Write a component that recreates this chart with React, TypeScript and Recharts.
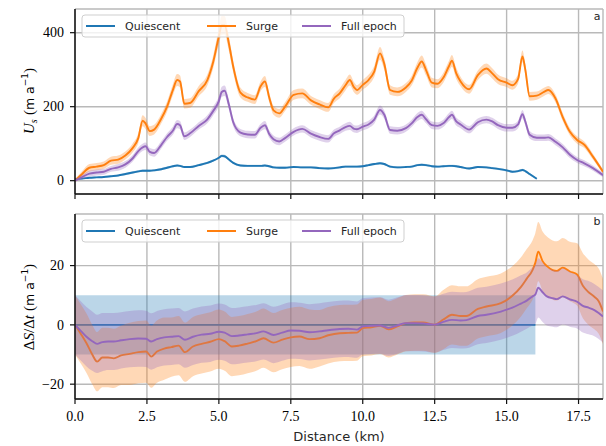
import React from "react";
import { ComposedChart, Line, Area, XAxis, YAxis, CartesianGrid } from "recharts";

const BLUE = "#1f77b4";
const ORANGE = "#ff7f0e";
const PURPLE = "#9467bd";
const GRID = "#b9b9b9";

// distance along flowline (km), top panel
const DIST_TOP = [
  0, 0.25, 0.5, 0.75, 1.0, 1.25, 1.5, 1.75, 2.0, 2.2,
  2.35, 2.45, 2.6, 2.75, 3.0, 3.2, 3.4, 3.55, 3.65, 3.8,
  4.0, 4.3, 4.6, 4.8, 5.0, 5.1, 5.2, 5.35, 5.5, 5.75,
  6.0, 6.25, 6.45, 6.6, 6.75, 6.9, 7.1, 7.3, 7.6, 7.9,
  8.2, 8.5, 8.8, 9.0, 9.2, 9.4, 9.55, 9.7, 9.8, 10.0,
  10.2, 10.4, 10.6, 10.75, 10.95, 11.2, 11.5, 11.7, 11.9, 12.05,
  12.2, 12.4, 12.6, 12.8, 13.0, 13.1, 13.25, 13.4, 13.7, 14.0,
  14.3, 14.5, 14.7, 15.0, 15.2, 15.4, 15.55, 15.65, 15.8, 16.05,
  16.3, 16.45, 16.7, 16.95, 17.2, 17.45, 17.7, 18.0, 18.35,
];

// surface speed U_s (m/a)
const SURGE_TOP = [
  0, 18, 35, 38, 42, 54, 57, 68, 88, 115,
  162, 155, 134, 138, 168, 200, 245, 272, 268, 208,
  210, 242, 272, 320, 390, 420, 420, 370, 308, 238,
  225, 219, 255, 268, 225, 190, 182, 200, 232, 236,
  217, 206, 198, 222, 236, 258, 272, 252, 245, 259,
  272, 295, 344, 315, 245, 240, 252, 270, 305, 322,
  299, 265, 262, 278, 310, 324, 290, 268, 247, 285,
  303, 290, 274, 265, 258, 275, 336, 300, 228, 230,
  240, 245, 222, 172, 132, 110, 97, 65, 24,
];
const SURGE_TOP_ERR = [
  4, 8, 10, 10, 10, 11, 11, 11, 12, 13,
  15, 15, 13, 13, 13, 14, 15, 16, 16, 13,
  13, 14, 15, 17, 22, 26, 25, 20, 16, 13,
  12, 12, 13, 15, 13, 12, 12, 12, 13, 13,
  12, 12, 12, 12, 13, 14, 15, 14, 13, 13,
  14, 15, 17, 16, 13, 12, 12, 13, 15, 16,
  15, 13, 12, 13, 15, 16, 15, 13, 12, 13,
  14, 14, 13, 12, 12, 13, 16, 15, 12, 11,
  11, 11, 11, 11, 10, 10, 9, 8, 6,
];
const FULL_TOP = [
  0, 10, 19, 22, 24, 32, 36, 44, 60, 80,
  90, 93, 78, 75, 97, 118, 135, 153, 150, 120,
  128, 148, 166, 188, 215, 240, 243, 205, 158, 130,
  125, 124, 143, 150, 126, 112, 106, 115, 132, 140,
  127, 118, 113, 128, 136, 145, 148, 140, 139, 146,
  152, 165, 191, 178, 137, 135, 142, 155, 172, 178,
  166, 150, 148, 155, 172, 178, 160, 152, 138, 158,
  165, 160, 150, 143, 143, 152, 180, 160, 124, 116,
  116, 117, 105, 90, 70, 56, 47, 34, 15,
];
const FULL_TOP_ERR = [
  3, 6, 8, 8, 8, 8, 9, 9, 9, 10,
  10, 10, 10, 10, 10, 10, 11, 11, 11, 10,
  10, 10, 11, 12, 13, 14, 14, 13, 11, 10,
  10, 10, 10, 11, 10, 10, 10, 10, 10, 10,
  10, 10, 10, 10, 10, 10, 11, 10, 10, 10,
  10, 11, 12, 11, 10, 10, 10, 10, 11, 11,
  11, 10, 10, 10, 11, 11, 11, 10, 10, 10,
  10, 10, 10, 10, 10, 10, 11, 11, 10, 9,
  9, 9, 9, 9, 9, 8, 8, 7, 6,
];
const QUIET_TOP = [
  5, 6, 8, 9, 10, 12, 14, 18, 22, 25,
  27, 27, 27, 28, 31, 35, 39, 41, 40, 37,
  37, 42, 48, 54, 62, 67, 66, 57, 48, 41,
  40, 40, 40, 41, 39, 36, 35, 35, 37, 36,
  36, 34, 33, 34, 36, 38, 38, 38, 38, 39,
  42, 45, 47, 45, 38, 36, 37, 38, 42, 43,
  42, 39, 38, 39, 40, 40, 39, 37, 33, 37,
  36, 34, 32, 28, 24, 26, 29, 26, 18, 5,
  null, null, null, null, null, null, null, null, null,
];
const QUIET_TOP_ERR = [
  2, 2, 2, 2, 2, 2, 2, 3, 3, 3,
  3, 3, 3, 3, 3, 3, 3, 3, 3, 3,
  3, 3, 3, 3, 3, 4, 4, 3, 3, 3,
  3, 3, 3, 3, 3, 3, 3, 3, 3, 3,
  3, 3, 3, 3, 3, 3, 3, 3, 3, 3,
  3, 3, 3, 3, 3, 3, 3, 3, 3, 3,
  3, 3, 3, 3, 3, 3, 3, 3, 3, 3,
  3, 3, 3, 3, 3, 3, 3, 3, 3, 2,
  0, 0, 0, 0, 0, 0, 0, 0, 0,
];

// distance (km), bottom panel
const DIST_BOT = [
  0, 0.2, 0.4, 0.6, 0.77, 0.95, 1.15, 1.35, 1.6, 1.9,
  2.2, 2.47, 2.65, 2.85, 3.1, 3.35, 3.6, 3.82, 4.1, 4.4,
  4.7, 5.0, 5.2, 5.45, 5.7, 6.0, 6.3, 6.55, 6.9, 7.2,
  7.5, 7.8, 8.15, 8.5, 8.8, 9.2, 9.5, 9.8, 10.0, 10.3,
  10.6, 10.9, 11.2, 11.5, 11.8, 12.1, 12.5, 12.8, 13.1, 13.4,
  13.6, 14.0, 14.3, 14.8, 15.2, 15.5, 15.7, 15.9, 16.0, 16.1,
  16.25, 16.4, 16.6, 16.75, 16.95, 17.2, 17.45, 17.65, 17.85, 18.05,
  18.2, 18.35,
];

// surface elevation change dS/dt (m/a)
const SURGE_BOT = [
  0, -3, -6.2, -10, -12.4, -11, -11, -11.3, -10.3, -9.8,
  -9.2, -9, -10.7, -9, -8, -7.5, -7, -9.2, -7.3, -6.4,
  -5.7, -4.8, -5.5, -7.3, -7, -6.3, -5.5, -4.5, -6, -5,
  -4.2, -3.9, -4.8, -4.5, -3.5, -2.8, -2.7, -2.6, -1.1, -0.8,
  -0.3, -1.5, -0.5, 0.6, 0.8, 0.8, 0.1, 1.8, 3.4, 3.0,
  3.0, 5.4, 6.2, 7.3, 9.8, 12.8, 15.6, 18.5, 21, 24.7,
  21.5, 19.8, 18.5, 18.2, 19.3, 18, 17, 13.2, 11, 9.5,
  8, 4.5,
];
const SURGE_BOT_ERR = [
  10, 10, 10, 10, 10, 10, 10, 10, 10, 10.5,
  10.5, 10.5, 10.5, 10.5, 10.5, 10, 10, 10, 10, 10,
  10, 10, 10, 10, 10, 10, 10, 10, 10, 10,
  10, 10, 10, 9.5, 9.5, 9.5, 9.5, 9.5, 9.5, 9.5,
  9.5, 9.5, 9.5, 9.5, 9.5, 9.5, 9.5, 10, 10, 10,
  10, 10, 10, 10, 10, 10, 10, 10, 10, 10,
  10, 10, 10, 10, 10, 10, 10.5, 11, 11, 11,
  11, 11,
];
const FULL_BOT = [
  0, -2, -4, -5.5, -6.4, -5.8, -5.6, -5.6, -5.2, -4.8,
  -4.6, -4.7, -5.6, -4.8, -4.2, -4, -3.8, -5, -4, -3.3,
  -3, -2.3, -2.6, -3.8, -3.6, -3.2, -2.8, -2.2, -3.4, -2.6,
  -1.9, -2, -2.5, -2.2, -1.8, -1.4, -1.3, -1.6, -0.5, -0.3,
  -0.2, -1, -0.2, 0.6, 0.6, 0.5, 0.1, 1.0, 1.7, 1.5,
  1.6, 3.0, 3.4, 4.5, 5.8, 7.2, 8.2, 9.6, 10.3, 12.5,
  11, 9.6, 9, 8.7, 9.6, 8.6, 7.8, 6.4, 5.8, 5,
  4, 2.8,
];
const FULL_BOT_ERR = [
  10, 10, 10, 10, 9.8, 9.8, 9.6, 9.6, 9.5, 9.5,
  9.5, 9.5, 9.5, 9.5, 9.5, 9.5, 9.5, 9.5, 9.5, 9.5,
  9.5, 9.5, 9.5, 9.5, 9.5, 9.5, 9.5, 9.5, 9.5, 9.5,
  9.5, 9.5, 9.5, 9.5, 9.5, 9.5, 9.5, 9.5, 9.5, 9.5,
  9.5, 9.5, 9.5, 9.5, 9.5, 9.5, 9.5, 9.5, 9.5, 9.5,
  9.5, 9.5, 9.5, 9.5, 9.5, 9.5, 9.5, 9.8, 10, 10,
  10, 9.8, 9.6, 9.5, 9.5, 9.2, 9, 9, 9, 8.8,
  8.8, 8.8,
];
const QUIET_BOT = DIST_BOT.map((d) => (d <= 16 ? 0 : null));
const QUIET_BOT_ERR = 10;

const X_TICKS = [0, 2.5, 5, 7.5, 10, 12.5, 15, 17.5];
const X_MAX = 18.35;
const TOP_TICKS = [0, 200, 400];
const BOT_TICKS = [-20, 0, 20];

const band = (v: number | null, e: number) => (v == null ? null : [v - e, v + e]);

const topRows = DIST_TOP.map((d, i) => ({
  d,
  q: QUIET_TOP[i],
  s: SURGE_TOP[i],
  f: FULL_TOP[i],
  qBand: band(QUIET_TOP[i], QUIET_TOP_ERR[i]),
  sBand: band(SURGE_TOP[i], SURGE_TOP_ERR[i]),
  fBand: band(FULL_TOP[i], FULL_TOP_ERR[i]),
}));

const botRows = DIST_BOT.map((d, i) => ({
  d,
  q: QUIET_BOT[i],
  s: SURGE_BOT[i],
  f: FULL_BOT[i],
  qBand: band(QUIET_BOT[i], QUIET_BOT_ERR),
  sBand: band(SURGE_BOT[i], SURGE_BOT_ERR[i]),
  fBand: band(FULL_BOT[i], FULL_BOT_ERR[i]),
}));

const AXIS = { stroke: "#111", strokeWidth: 1.5 };
const TICK_LINE = { stroke: "#111", strokeWidth: 1.2 };
const SANS = "'DejaVu Sans', sans-serif";
const SERIF = "'Liberation Serif', 'Times New Roman', serif";
const serifStyle = { fontFamily: SERIF };
const sansStyle = { fontFamily: SANS };

const fmtX = (v: number) => v.toFixed(1);
const fmtY = (v: number) => (v < 0 ? "\u2212" + Math.abs(v) : String(v));

const xTick = (show: boolean) => (p: any) => (
  <text x={p.x} y={p.y} dy="0.71em" textAnchor="middle" style={serifStyle} fontSize={14} fill="#000">
    {show ? fmtX(p.payload.value) : ""}
  </text>
);
const yTick = (p: any) => (
  <text x={p.x} y={p.y} dy="0.34em" textAnchor="end" style={serifStyle} fontSize={14} fill="#000">
    {fmtY(p.payload.value)}
  </text>
);

function Panel({ rows, yDomain, yTicks, height, xHeight, showX, qType }: any) {
  return (
    <ComposedChart
      width={606}
      height={height}
      data={rows}
      margin={{ top: 9, right: 3, bottom: 0, left: 0 }}
    >
      <CartesianGrid stroke={GRID} strokeWidth={1.4} />
      <XAxis
        dataKey="d"
        type="number"
        domain={[0, X_MAX]}
        ticks={X_TICKS}
        interval={0}
        allowDataOverflow
        height={xHeight}
        tickSize={5}
        tickMargin={7}
        axisLine={AXIS}
        tickLine={TICK_LINE}
        tick={xTick(showX)}
      />
      <XAxis
        xAxisId="top"
        orientation="top"
        type="number"
        domain={[0, X_MAX]}
        height={0}
        tick={false}
        tickLine={false}
        axisLine={AXIS}
      />
      <YAxis
        type="number"
        domain={yDomain}
        ticks={yTicks}
        interval={0}
        allowDataOverflow
        width={75}
        tickSize={5}
        tickMargin={6}
        axisLine={AXIS}
        tickLine={TICK_LINE}
        tick={yTick}
      />
      <YAxis
        yAxisId="right"
        orientation="right"
        type="number"
        domain={yDomain}
        width={0}
        tick={false}
        tickLine={false}
        axisLine={AXIS}
      />
      <Area type={qType} dataKey="qBand" stroke="none" fill={BLUE} fillOpacity={0.3} isAnimationActive={false} activeDot={false} zIndex={100} />
      <Line type={qType} dataKey="q" stroke={BLUE} strokeWidth={1.9} dot={false} activeDot={false} isAnimationActive={false} zIndex={101} />
      <Area type="monotone" dataKey="sBand" stroke="none" fill={ORANGE} fillOpacity={0.3} isAnimationActive={false} activeDot={false} zIndex={102} />
      <Line type="monotone" dataKey="s" stroke={ORANGE} strokeWidth={1.9} dot={false} activeDot={false} isAnimationActive={false} zIndex={103} />
      <Area type="monotone" dataKey="fBand" stroke="none" fill={PURPLE} fillOpacity={0.3} isAnimationActive={false} activeDot={false} zIndex={104} />
      <Line type="monotone" dataKey="f" stroke={PURPLE} strokeWidth={1.9} dot={false} activeDot={false} isAnimationActive={false} zIndex={105} />
    </ComposedChart>
  );
}

const LEGEND_ITEMS = [
  { label: "Quiescent", color: BLUE, x: 86 },
  { label: "Surge", color: ORANGE, x: 207 },
  { label: "Full epoch", color: PURPLE, x: 302 },
];

function LegendBox({ y }: { y: number }) {
  return (
    <g>
      <rect x={82} y={y} width={322} height={22} rx={3} fill="#fff" fillOpacity={0.8} stroke="#cfcfcf" strokeWidth={1} />
      {LEGEND_ITEMS.map((it) => (
        <g key={it.label}>
          <line x1={it.x} x2={it.x + 29} y1={y + 11} y2={y + 11} stroke={it.color} strokeWidth={2} />
          <text x={it.x + 39} y={y + 15} style={sansStyle} fontSize={11} fill="#262626">
            {it.label}
          </text>
        </g>
      ))}
    </g>
  );
}

function UnitTail() {
  return (
    <>
      <tspan style={serifStyle} fontStyle="normal" dx="4">(</tspan>
      <tspan style={sansStyle} fontSize={12.5}>m a</tspan>
      <tspan style={sansStyle} fontSize={9} dy="-6">{"\u22121"}</tspan>
      <tspan style={serifStyle} dy="6">)</tspan>
    </>
  );
}

export default function App() {
  return (
    <div style={{ position: "absolute", left: 0, top: 0, width: 606, height: 446, background: "#fff" }}>
      <div style={{ position: "absolute", left: 0, top: 0 }}>
        <Panel rows={topRows} yDomain={[-36, 464]} yTicks={TOP_TICKS} height={205} xHeight={11} showX={false} qType="monotone" />
      </div>
      <div style={{ position: "absolute", left: 0, top: 205 }}>
        <Panel rows={botRows} yDomain={[-25, 37.4]} yTicks={BOT_TICKS} height={241} xHeight={47} showX qType="linear" />
      </div>
      <svg width={606} height={446} style={{ position: "absolute", left: 0, top: 0, pointerEvents: "none" }}>
        <LegendBox y={15} />
        <LegendBox y={220} />
        <text x={597} y={20} textAnchor="middle" style={sansStyle} fontSize={11} fill="#262626">a</text>
        <text x={597} y={225} textAnchor="middle" style={sansStyle} fontSize={11} fill="#262626">b</text>
        <text x={339} y={441} textAnchor="middle" style={sansStyle} fontSize={13} fill="#262626">
          Distance (km)
        </text>
        <text transform="translate(34,101) rotate(-90)" textAnchor="middle" style={serifStyle} fontSize={15} fill="#000">
          <tspan fontStyle="italic">U</tspan>
          <tspan fontStyle="italic" fontSize={10} dy="3">s</tspan>
          <tspan dy="-3" fontSize={1}> </tspan>
          <UnitTail />
        </text>
        <text transform="translate(34,307) rotate(-90)" textAnchor="middle" style={serifStyle} fontSize={15} fill="#000">
          <tspan>{"\u0394"}</tspan>
          <tspan fontStyle="italic">S</tspan>
          <tspan>/{"\u0394"}</tspan>
          <tspan fontStyle="italic">t</tspan>
          <UnitTail />
        </text>
      </svg>
    </div>
  );
}
